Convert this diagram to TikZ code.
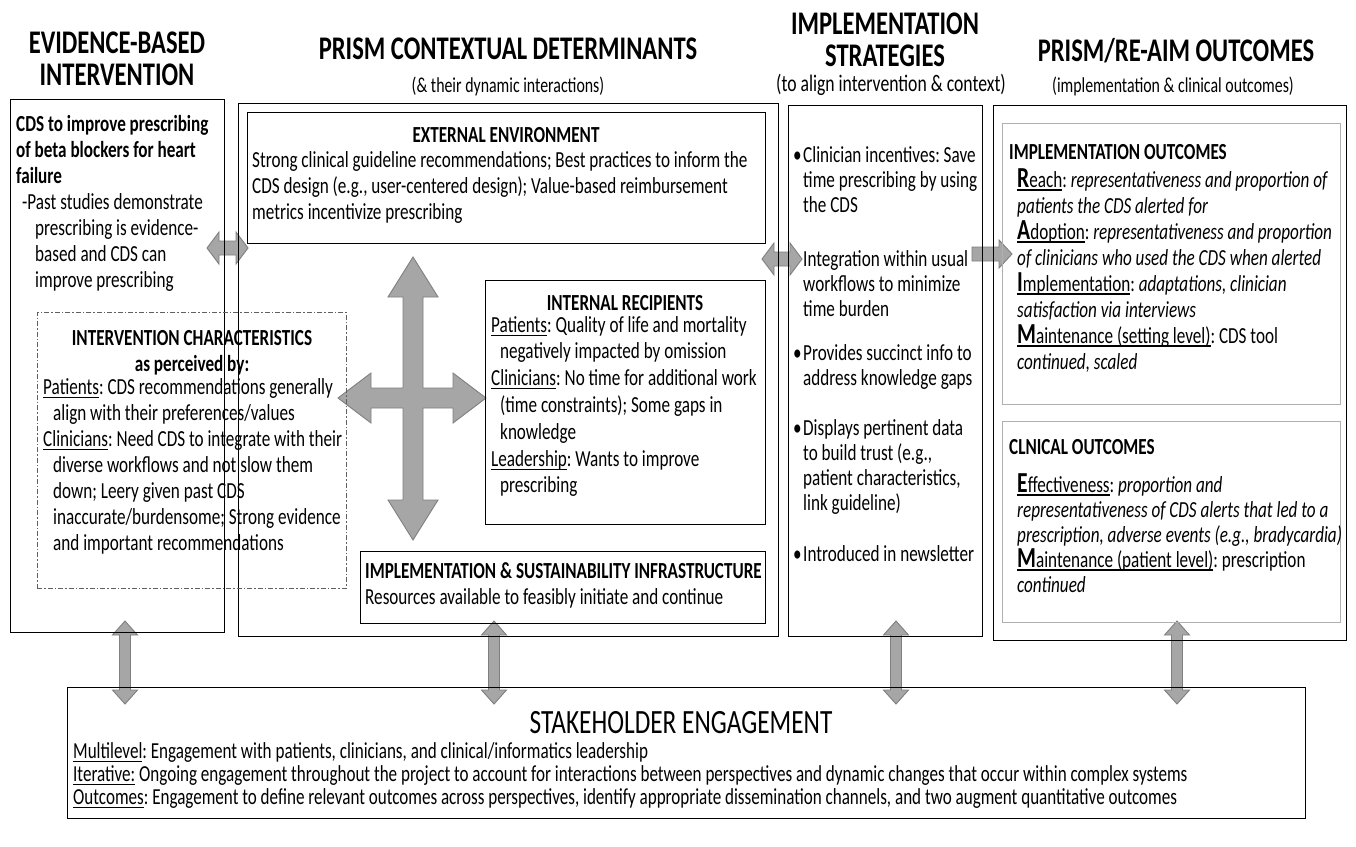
\documentclass[tikz,border=0pt]{standalone}
\usepackage{fontspec}
\setmainfont{Carlito}[FakeStretch=0.745]
\definecolor{arrowfill}{HTML}{A6A6A6}
\definecolor{arrowline}{HTML}{7F7F7F}
\definecolor{softframe}{HTML}{B0B0B0}
\definecolor{dashframe}{HTML}{606060}
% big bold initial letter of a RE-AIM dimension
\newcommand\initial[1]{{\fontsize{29}{26}\selectfont\bfseries #1}}
% underline with a slightly heavier rule
\newsavebox\ulbox
\newcommand\ul[1]{\sbox\ulbox{#1}\rlap{\rule[-3.5pt]{\wd\ulbox}{1.1pt}}\usebox\ulbox}
% empty framed box given by its corners (x1,y1) (x2,y2), y downwards
\newcommand\boxnode[6]{\node[#6, anchor=north west, minimum width={(#4-#2)*1pt}, minimum height={(#5-#3)*1pt}] (#1) at (#2,#3) {};}
% horizontal double block arrow: x1 x2 y shaft-half head-half head-length
\newcommand\hdarrow[6]{\filldraw[blockarrow] (#1,#3) -- ({#1+#6},{#3-#5}) -- ({#1+#6},{#3-#4}) -- ({#2-#6},{#3-#4}) -- ({#2-#6},{#3-#5}) -- (#2,#3) -- ({#2-#6},{#3+#5}) -- ({#2-#6},{#3+#4}) -- ({#1+#6},{#3+#4}) -- ({#1+#6},{#3+#5}) -- cycle;}
% vertical double block arrow: x y1 y2 shaft-half head-half head-length
\newcommand\vdarrow[6]{\filldraw[blockarrow] (#1,#2) -- ({#1+#5},{#2+#6}) -- ({#1+#4},{#2+#6}) -- ({#1+#4},{#3-#6}) -- ({#1+#5},{#3-#6}) -- (#1,#3) -- ({#1-#5},{#3-#6}) -- ({#1-#4},{#3-#6}) -- ({#1-#4},{#2+#6}) -- ({#1-#5},{#2+#6}) -- cycle;}
% single right-pointing block arrow
\newcommand\rsarrow[6]{\filldraw[blockarrow] (#1,{#3-#4}) -- ({#2-#6},{#3-#4}) -- ({#2-#6},{#3-#5}) -- (#2,#3) -- ({#2-#6},{#3+#5}) -- ({#2-#6},{#3+#4}) -- (#1,{#3+#4}) -- cycle;}
\begin{document}
\frenchspacing
\begin{tikzpicture}[x=1pt,y=-1pt,
  blockarrow/.style={fill=arrowfill, draw=arrowline, line width=0.9pt, line join=miter},
  frame/.style={draw=black, line width=1.3pt, inner sep=0pt},
  softbox/.style={draw=softframe, line width=1.1pt, inner sep=0pt},
  dashbox/.style={draw=dashframe, line width=0.8pt, dash pattern=on 5pt off 2pt on 1.5pt off 2pt, inner sep=0pt},
  coltitle/.style={inner sep=0pt, align=center, font=\fontsize{33}{29}\selectfont\bfseries},
  subtitle/.style={inner sep=0pt, anchor=base, font=\fontsize{21.3}{24}\selectfont},
  head/.style={inner sep=0pt, anchor=base, font=\fontsize{23}{26}\selectfont\bfseries},
  body/.style={inner sep=0pt, anchor=north west, align=left, font=\fontsize{23}{26}\selectfont, execute at begin node=\strut},
  line/.style={inner sep=0pt, anchor=base west, font=\fontsize{23}{26}\selectfont},
  list/.style={inner sep=0pt, anchor=north west, align=left, font=\fontsize{23}{25}\selectfont, execute at begin node=\strut},
  small/.style={inner sep=0pt, anchor=north west, align=left, font=\fontsize{22.9}{23}\selectfont, execute at begin node=\strut}]
\useasboundingbox (0,0) rectangle (1356,846);
\fill[white] (0,0) rectangle (1356,846);

% ---------- block arrows (drawn first, frames lie over them) ----------
\hdarrow{207}{248}{248}{7}{16}{12}
\hdarrow{762}{802}{259}{7}{16}{12}
\rsarrow{972}{1012}{254}{7}{14}{13}
\vdarrow{125}{621}{704}{5.5}{12.5}{14}
\vdarrow{494}{621}{704}{5.5}{12.5}{14}
\vdarrow{896}{621}{704}{5.5}{12.5}{14}
\vdarrow{1177}{621}{704}{5.5}{12.5}{14}
% four-way arrow linking the contextual determinants
\filldraw[blockarrow] (413,257) -- (438,297) -- (423,297) -- (423,388) -- (453,388) -- (453,373) -- (486,398) -- (453,423) -- (453,408) -- (423,408) -- (423,500) -- (438,500) -- (413,540) -- (388,500) -- (403,500) -- (403,408) -- (371,408) -- (371,423) -- (338,398) -- (371,373) -- (371,388) -- (403,388) -- (403,297) -- (388,297) -- cycle;

% ---------- column titles ----------
\node[coltitle, anchor=north] (t1) at (117,32) {\strut EVIDENCE-BASED\\INTERVENTION};
\node[coltitle, anchor=base] (t2) at (508,59.5) {PRISM CONTEXTUAL DETERMINANTS};
\node[subtitle] (s2) at (508,92) {(\& their dynamic interactions)};
\node[coltitle, anchor=north] (t3) at (885,13) {\strut IMPLEMENTATION\\STRATEGIES};
\node[subtitle, font=\fontsize{23.7}{24}\selectfont] (s3) at (891,91) {(to align intervention \& context)};
\node[coltitle, anchor=base] (t4) at (1176,61.5) {PRISM/RE-AIM OUTCOMES};
\node[subtitle] (s4) at (1173,92) {(implementation \& clinical outcomes)};

% ---------- frames ----------
\boxnode{ebi}{10}{99}{224}{632}{frame}
\boxnode{pcd}{238}{103}{778}{636}{frame}
\boxnode{ext}{247}{112}{765}{243}{frame}
\boxnode{rec}{485}{280}{765}{524}{frame}
\boxnode{inf}{360}{551}{765}{623}{frame}
\boxnode{chr}{37}{312}{346}{588}{dashbox}
\boxnode{str}{788}{105}{982}{636}{frame}
\boxnode{out}{993}{105}{1346}{640}{frame}
\boxnode{imo}{1002}{123}{1340}{404}{softbox}
\boxnode{clo}{1002}{421}{1340}{622}{softbox}
\boxnode{stk}{67}{687}{1305}{818}{frame}

% ---------- evidence-based intervention ----------
\node[body] (ebtxt) at (16,115) {\textbf{CDS to improve prescribing}\\
\textbf{of beta blockers for heart}\\
\textbf{failure}\\
\hspace*{6pt}-Past studies demonstrate\\
\hspace*{19pt}prescribing is evidence-\\
\hspace*{19pt}based and CDS can\\
\hspace*{19pt}improve prescribing};
\node[head] (chrh1) at (192,345) {INTERVENTION CHARACTERISTICS};
\node[head] (chrh2) at (192,371) {as perceived by:};
\node[body] (chrtxt) at (43,378) {\ul{Patients}: CDS recommendations generally\\
\hspace*{10pt}align with their preferences/values\\
\ul{Clinicians}: Need CDS to integrate with their\\
\hspace*{10pt}diverse workflows and not slow them\\
\hspace*{10pt}down; Leery given past CDS\\
\hspace*{10pt}inaccurate/burdensome; Strong evidence\\
\hspace*{10pt}and important recommendations};

% ---------- contextual determinants ----------
\node[head] (exth) at (506,142) {EXTERNAL ENVIRONMENT};
\node[body] (exttxt) at (252,151) {Strong clinical guideline recommendations; Best practices to inform the\\
CDS design (e.g., user-centered design); Value-based reimbursement\\
metrics incentivize prescribing};
\node[head] (rech) at (625,310) {INTERNAL RECIPIENTS};
\node[body, font=\fontsize{23}{26.8}\selectfont] (rectxt) at (491,316) {\ul{Patients}: Quality of life and mortality\\
\hspace*{9pt}negatively impacted by omission\\
\ul{Clinicians}: No time for additional work\\
\hspace*{9pt}(time constraints); Some gaps in\\
\hspace*{9pt}knowledge\\
\ul{Leadership}: Wants to improve\\
\hspace*{9pt}prescribing};
\node[head, anchor=base west] (infh) at (365,578) {IMPLEMENTATION \& SUSTAINABILITY INFRASTRUCTURE};
\node[line] (inftxt) at (365,604) {Resources available to feasibly initiate and continue};

% ---------- implementation strategies ----------
\node[list] (str1) at (793,146) {\makebox[10pt][l]{•}Clinician incentives: Save\\
\hspace*{10pt}time prescribing by using\\
\hspace*{10pt}the CDS};
\node[list] (str2) at (793,250) {\hspace*{10pt}Integration within usual\\
\hspace*{10pt}workflows to minimize\\
\hspace*{10pt}time burden};
\node[list] (str3) at (793,344) {\makebox[10pt][l]{•}Provides succinct info to\\
\hspace*{10pt}address knowledge gaps};
\node[list] (str4) at (793,419) {\makebox[10pt][l]{•}Displays pertinent data\\
\hspace*{10pt}to build trust (e.g.,\\
\hspace*{10pt}patient characteristics,\\
\hspace*{10pt}link guideline)};
\node[list] (str5) at (793,544) {\makebox[10pt][l]{•}Introduced in newsletter};

% ---------- outcomes ----------
\node[head, anchor=base west] (imoh) at (1009,159) {IMPLEMENTATION OUTCOMES};
\node[body] (imotxt) at (1017,168) {\ul{\initial{R}each}: \textit{representativeness and proportion of}\\
\textit{patients the CDS alerted for}\\
\ul{\initial{A}doption}: \textit{representativeness and proportion}\\
\textit{of clinicians who used the CDS when alerted}\\
\ul{\initial{I}mplementation}: \textit{adaptations, clinician}\\
\textit{satisfaction via interviews}\\
\ul{\initial{M}aintenance (setting level)}: CDS tool\\
\textit{continued, scaled}};
\node[head, anchor=base west] (cloh) at (1009,454) {CLNICAL OUTCOMES};
\node[list] (clotxt) at (1017,473) {\ul{\initial{E}ffectiveness}: \textit{proportion and}\\
\textit{representativeness of CDS alerts that led to a}\\
\textit{prescription, adverse events (e.g., bradycardia)}\\
\ul{\initial{M}aintenance (patient level)}: prescription\\
\textit{continued}};

% ---------- stakeholder engagement ----------
\node[inner sep=0pt, anchor=base, font=\fontsize{34}{30}\selectfont] (stkh) at (681,733) {STAKEHOLDER ENGAGEMENT};
\node[small] (stktxt) at (73,742) {\ul{Multilevel}: Engagement with patients, clinicians, and clinical/informatics leadership\\
\ul{Iterative:} Ongoing engagement throughout the project to account for interactions between perspectives and dynamic changes that occur within complex systems\\
\ul{Outcomes}: Engagement to define relevant outcomes across perspectives, identify appropriate dissemination channels, and two augment quantitative outcomes};
\end{tikzpicture}
\end{document}
